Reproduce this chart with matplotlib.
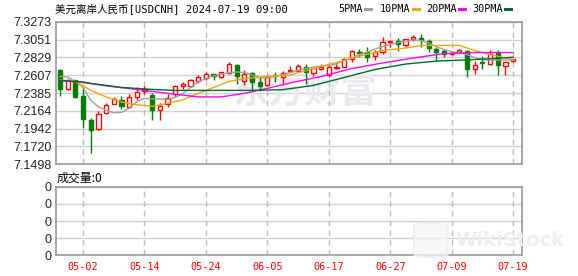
# ----------------------------------------------------------LIBRARIES----------------------------------------------------------#
import matplotlib
matplotlib.use('Agg')
import matplotlib.pyplot as pyplot
from matplotlib.lines import Line2D
from matplotlib.patches import FancyBboxPatch
import numpy
# ----------------------------------------------------------VARIABLES----------------------------------------------------------#
# Daily OHLC of USDCNH, 2024-04-29 .. 2024-07-19
opens = [7.2678, 7.2430, 7.2542, 7.2343, 7.2046, 7.1934, 7.2139, 7.2253, 7.2294, 7.2211,
         7.2337, 7.2412, 7.2356, 7.2179, 7.2244, 7.2368, 7.2474, 7.2467, 7.2536, 7.2566,
         7.2616, 7.2579, 7.2632, 7.2734, 7.2536, 7.2632, 7.2521, 7.2480, 7.2610, 7.2585,
         7.2660, 7.2657, 7.2715, 7.2637, 7.2690, 7.2610, 7.2697, 7.2715, 7.2806, 7.2901,
         7.2901, 7.2845, 7.2895, 7.3016, 7.3037, 7.2988, 7.3062, 7.3071, 7.3031, 7.2938,
         7.2914, 7.2870, 7.2892, 7.2907, 7.2687, 7.2777, 7.2746, 7.2889, 7.2721, 7.2783]
highs = [7.2690, 7.2554, 7.2548, 7.2455, 7.2074, 7.2157, 7.2257, 7.2335, 7.2343, 7.2368,
         7.2455, 7.2474, 7.2387, 7.2257, 7.2368, 7.2480, 7.2523, 7.2560, 7.2604, 7.2645,
         7.2622, 7.2647, 7.2777, 7.2746, 7.2674, 7.2647, 7.2579, 7.2610, 7.2645, 7.2660,
         7.2721, 7.2752, 7.2744, 7.2715, 7.2744, 7.2740, 7.2771, 7.2823, 7.2920, 7.2935,
         7.2954, 7.2920, 7.3078, 7.3037, 7.3075, 7.3062, 7.3106, 7.3121, 7.3056, 7.2963,
         7.2938, 7.2914, 7.2935, 7.2926, 7.2783, 7.2852, 7.2920, 7.2922, 7.2777, 7.2811]
lows = [7.2347, 7.2418, 7.2319, 7.1953, 7.1641, 7.1928, 7.2120, 7.2244, 7.2191, 7.2195,
        7.2294, 7.2368, 7.2052, 7.2046, 7.2207, 7.2331, 7.2430, 7.2455, 7.2508, 7.2542,
        7.2542, 7.2573, 7.2622, 7.2492, 7.2486, 7.2418, 7.2412, 7.2467, 7.2517, 7.2480,
        7.2641, 7.2647, 7.2501, 7.2598, 7.2666, 7.2579, 7.2684, 7.2709, 7.2777, 7.2839,
        7.2769, 7.2796, 7.2873, 7.2957, 7.2914, 7.2954, 7.3037, 7.2963, 7.2901, 7.2790,
        7.2839, 7.2858, 7.2889, 7.2583, 7.2625, 7.2690, 7.2728, 7.2604, 7.2604, 7.2777]
closes = [7.2434, 7.2542, 7.2331, 7.2062, 7.1922, 7.2129, 7.2241, 7.2306, 7.2223, 7.2331,
          7.2397, 7.2430, 7.2179, 7.2219, 7.2325, 7.2467, 7.2492, 7.2550, 7.2583, 7.2616,
          7.2591, 7.2641, 7.2749, 7.2598, 7.2622, 7.2523, 7.2467, 7.2583, 7.2591, 7.2635,
          7.2678, 7.2724, 7.2641, 7.2697, 7.2703, 7.2703, 7.2715, 7.2811, 7.2914, 7.2889,
          7.2831, 7.2897, 7.3016, 7.3031, 7.3000, 7.3056, 7.3081, 7.3041, 7.2945, 7.2901,
          7.2876, 7.2889, 7.2922, 7.2687, 7.2728, 7.2761, 7.2870, 7.2728, 7.2769, 7.2806]
# Moving averages (they include days before the window)
ma5 = [7.2591, 7.2585, 7.2529, 7.2455, 7.2294, 7.2213, 7.2170, 7.2139, 7.2145, 7.2195,
       7.2275, 7.2319, 7.2312, 7.2312, 7.2306, 7.2331, 7.2381, 7.2455, 7.2523, 7.2566,
       7.2597, 7.2622, 7.2635, 7.2647, 7.2641, 7.2610, 7.2579, 7.2573, 7.2591, 7.2616,
       7.2641, 7.2666, 7.2690, 7.2709, 7.2721, 7.2728, 7.2746, 7.2790, 7.2821, 7.2864,
       7.2895, 7.2932, 7.2963, 7.2988, 7.3013, 7.3031, 7.3046, 7.3040, 7.3006, 7.2963,
       7.2926, 7.2901, 7.2883, 7.2864, 7.2827, 7.2802, 7.2796, 7.2796, 7.2796, 7.2796]
ma10_days = [0, 2, 4, 6, 8, 10, 12, 14, 16, 18, 20, 22, 24, 27, 30, 33, 36, 39, 42, 45, 47, 52, 54, 56, 59]
ma10 = [7.2548, 7.2529, 7.2418, 7.2337, 7.2275, 7.2238, 7.2219, 7.2257, 7.2300, 7.2381,
        7.2455, 7.2529, 7.2566, 7.2591, 7.2610, 7.2690, 7.2765, 7.2845, 7.2914, 7.2945,
        7.2976, 7.2979, 7.2914, 7.2864, 7.2802]
ma20_days = [0, 3, 6, 10, 14, 18, 21, 24, 27, 30, 34, 38, 42, 46, 50, 54, 59]
ma20 = [7.2542, 7.2517, 7.2474, 7.2430, 7.2381, 7.2337, 7.2337, 7.2381, 7.2443, 7.2511,
        7.2591, 7.2690, 7.2759, 7.2821, 7.2876, 7.2889, 7.2889]
ma30_days = [0, 3, 4, 8, 12, 15, 25, 29, 33, 37, 41, 45, 49, 53, 56, 59]
ma30 = [7.2542, 7.2523, 7.2505, 7.2455, 7.2430, 7.2418, 7.2418, 7.2427, 7.2480, 7.2579,
        7.2678, 7.2746, 7.2783, 7.2798, 7.2811, 7.2831]
volume = 0
# Axis labels
date_days = [3, 11, 19, 27, 35, 43, 51, 59]
date_labels = ['05-02', '05-14', '05-24', '06-05', '06-17', '06-27', '07-09', '07-19']
price_ticks = [7.1498, 7.1720, 7.1942, 7.2164, 7.2385, 7.2607, 7.2829, 7.3051, 7.3273]
title = '美元离岸人民币[USDCNH] 2024-07-19 09:00'
# Figure size in pixels
W = 578
H = 276
# Colours
upColor = '#ff0000'
downColor = '#008000'
maColors = ['#a0a0a0', '#f5a500', '#ff00ff', '#006b2f']
gridColor = '#d0d0d0'
dashColor = '#bcbcbc'
frameColor = '#9a9a9a'
mono = ['DejaVu Sans Mono', 'Noto Sans CJK SC']
# ----------------------------------------------------------FUNCTIONS----------------------------------------------------------#
def fx(x):
    # pixel x -> figure fraction
    return x / W

def fy(y):
    # pixel y (from top) -> figure fraction
    return 1 - y / H

def frame(axf):
    for s in axf.spines.values():
        s.set_color(frameColor)
        s.set_linewidth(1.2)
    axf.tick_params(length=0)
    # dashed day separators, drawn in axes-height coordinates
    for d in date_days:
        axf.plot([d, d], [0, 1], transform=axf.get_xaxis_transform(), color=dashColor,
                 linewidth=1, linestyle=(0, (4, 3)), zorder=2)
# -----------------------------------------------------------MAINCODE----------------------------------------------------------#
fig = pyplot.figure(figsize=(W / 100, H / 100), dpi=100)
fig.patch.set_facecolor('white')
ax = fig.add_axes([fx(56), fy(164.3), (522 - 56) / W, (164.3 - 21.7) / H])
axv = fig.add_axes([fx(56), fy(255.3), (522 - 56) / W, (255.3 - 186.7) / H], sharex=ax)

o = numpy.array(opens)
c = numpy.array(closes)
x = numpy.arange(len(c))
up = c >= o
colors = [upColor if u else downColor for u in up]
faces = ['white' if u else downColor for u in up]

# Faint watermark behind the candles
ax.text(0.534, 0.505, '东方财富', transform=ax.transAxes, fontsize=26, fontweight='bold',
        family='Noto Sans CJK SC', color='#e9e9ee', ha='center', va='center', zorder=1)

# Candles: wicks first, then bodies on top
ax.vlines(x, lows, highs, colors=colors, linewidth=1, zorder=3)
ax.bar(x, numpy.abs(c - o), bottom=numpy.minimum(o, c), width=0.55, color=faces,
       edgecolor=colors, linewidth=1, zorder=4)

# Moving averages
ax.plot(x, ma5, color=maColors[0], linewidth=1, zorder=5)
ax.plot(ma10_days, ma10, color=maColors[1], linewidth=1, zorder=5)
ax.plot(ma20_days, ma20, color=maColors[2], linewidth=1, zorder=5)
ax.plot(ma30_days, ma30, color=maColors[3], linewidth=1, zorder=5)

# Price axis formatting
ax.set_ylim(price_ticks[0], price_ticks[-1])
ax.set_yticks(price_ticks)
ax.set_yticklabels(['{:.4f}'.format(t) for t in price_ticks], family='Liberation Sans', fontsize=9, color='#222222')
ax.set_xticks(date_days)
ax.tick_params(axis='x', labelbottom=False)
ax.tick_params(axis='y', pad=3)
ax.grid(axis='y', color=gridColor, linewidth=1, linestyle='-')
ax.set_axisbelow(True)
frame(ax)

# Volume panel (no volume for this instrument)
axv.set_ylim(0, 4)
axv.set_yticks([0, 1, 2, 3, 4])
axv.set_yticklabels(['0'] * 5, family='Liberation Sans', fontsize=9, color='#222222')
axv.set_xticks(date_days)
axv.set_xticklabels(date_labels, family=mono, fontsize=7.3, color=upColor)
axv.tick_params(axis='x', pad=5)
axv.tick_params(axis='y', pad=3)
axv.grid(axis='y', color=gridColor, linewidth=1, linestyle='-')
axv.set_axisbelow(True)
frame(axv)
ax.set_xlim(-0.52, 60.16)

# Titles and legend
fig.text(fx(55), fy(9), title, family=mono, fontsize=7.6, va='center', ha='left')
fig.text(fx(57), fy(177.7), '成交量:{}'.format(volume), family='Noto Sans CJK SC', fontsize=8.6, va='center', ha='left')
legendNames = ['5PMA', '10PMA', '20PMA', '30PMA']
legendText = [338.3, 379.3, 425.7, 472]
legendLine = [365, 412.7, 459, 505]
for name, tx, lx, col in zip(legendNames, legendText, legendLine, maColors):
    fig.text(fx(tx), fy(9), name, family=mono, fontsize=7.3, va='center', ha='left')
    fig.add_artist(Line2D([fx(lx), fx(lx + 6)], [fy(9), fy(9)], color=col, linewidth=2.2))

# WikiStock watermark (very faint)
fig.add_artist(FancyBboxPatch((fx(414), fy(257)), fx(34), 34 / H, boxstyle='round,pad=0,rounding_size=0.012',
                              facecolor='#f6f6f6', edgecolor='#ececec', linewidth=1.5, alpha=0.7))
fig.text(fx(455), fy(241), 'WikiStock', fontsize=14, fontweight='bold', color='#efefef', va='center', ha='left')

pyplot.savefig('out.png', dpi=100)
